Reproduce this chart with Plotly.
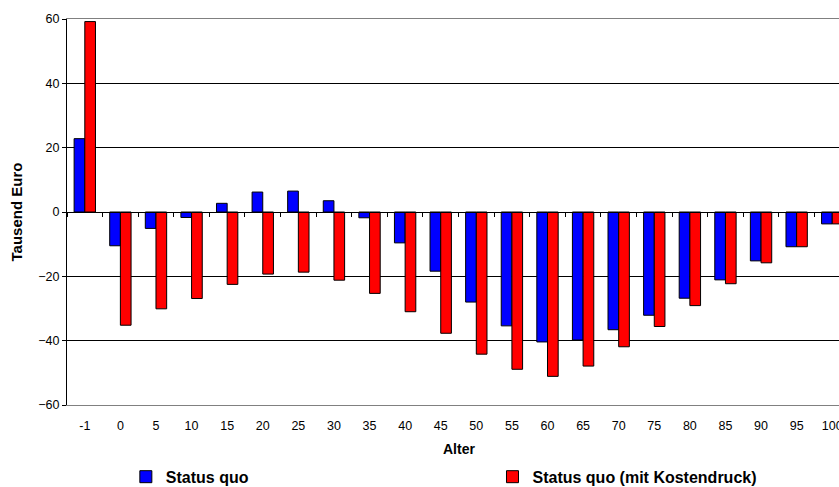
import plotly.graph_objects as go

# Age groups and values (Tausend Euro)
alter = ["-1", "0", "5", "10", "15", "20", "25", "30", "35", "40", "45",
         "50", "55", "60", "65", "70", "75", "80", "85", "90", "95", "100"]
status_quo = [22.8, -10.5, -5.1, -1.7, 2.7, 6.2, 6.5, 3.5, -1.8, -9.6, -18.4,
              -28.0, -35.4, -40.4, -39.8, -36.6, -32.1, -26.8, -21.1, -15.2, -10.8, -3.7]
status_quo_kosten = [59.2, -35.2, -30.1, -26.9, -22.5, -19.3, -18.7, -21.2, -25.3, -31.0, -37.7,
                     -44.2, -48.9, -51.1, -47.9, -41.9, -35.6, -29.1, -22.3, -15.8, -10.8, -3.7]
y_ticks = [-60, -40, -20, 0, 20, 40, 60]

FONT = "Liberation Sans, Arial, sans-serif"
x_range = [-0.5, 21.19]

fig = go.Figure()
fig.add_trace(go.Bar(x=alter, y=status_quo, name="<b>Status quo</b>", legend="legend",
                     marker=dict(color="#0000FF", line=dict(color="black", width=1))))
fig.add_trace(go.Bar(x=alter, y=status_quo_kosten, name="<b>Status quo (mit Kostendruck)</b>",
                     legend="legend2",
                     marker=dict(color="#FF0000", line=dict(color="black", width=1))))
# helper trace so the zero-line axis has categories
fig.add_trace(go.Scatter(x=alter, y=[0] * len(alter), xaxis="x2", mode="none",
                         showlegend=False, hoverinfo="skip"))

legend_style = dict(orientation="h", yanchor="middle", xanchor="left",
                    yref="container", y=0.021, xref="container",
                    font=dict(size=16), itemwidth=30, bgcolor="rgba(0,0,0,0)")

fig.update_layout(
    width=839, height=487,
    margin=dict(l=67, r=0, t=19, b=82, autoexpand=False),
    paper_bgcolor="white", plot_bgcolor="white",
    font=dict(family=FONT, size=12.5, color="black"),
    barmode="group", bargap=0.4, bargroupgap=0,
    xaxis=dict(type="category", categoryorder="array", categoryarray=alter,
               range=x_range, showgrid=False, showline=True, linecolor="#808080",
               linewidth=1, mirror=True, ticks="outside", ticklen=9,
               tickcolor="rgba(0,0,0,0)", tickfont=dict(size=12.5)),
    xaxis2=dict(type="category", categoryorder="array", categoryarray=alter,
                range=x_range, overlaying="x", anchor="free", position=0.5,
                side="bottom", showline=True, linecolor="black", linewidth=1,
                ticks="outside", tickson="boundaries", ticklen=4, tickcolor="black",
                showticklabels=False, showgrid=False, zeroline=False),
    yaxis=dict(range=[-60, 60], tickvals=y_ticks, showgrid=False, zeroline=False,
               showline=True, linecolor="black", linewidth=1, ticks="outside",
               ticklen=4, tickcolor="black", tickfont=dict(size=12.5),
               title=dict(text="<b>Tausend Euro</b>", font=dict(size=15), standoff=12),
               minor=dict(tickvals=[-40, -20, 20, 40], showgrid=True,
                          gridcolor="black", gridwidth=1, ticks="")),
    legend=dict(x=0.150, **legend_style),
    legend2=dict(x=0.587, **legend_style),
    annotations=[dict(text="<b>Alter</b>", xref="paper", yref="paper", x=0.508, y=-0.114,
                      xanchor="center", yanchor="middle", showarrow=False,
                      font=dict(size=14))],
)

fig.write_html("out.html")
